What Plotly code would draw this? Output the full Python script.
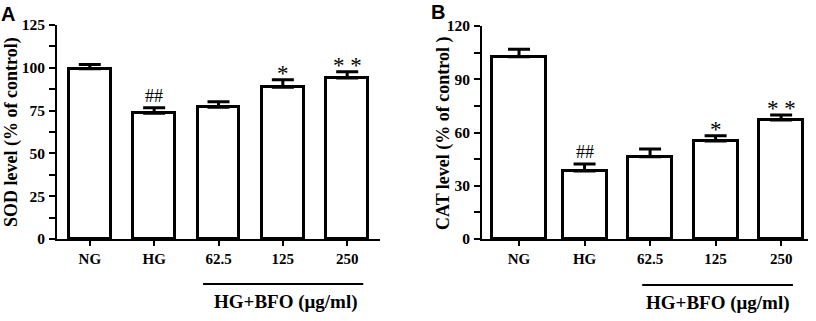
import plotly.graph_objects as go

categories = ["NG", "HG", "62.5", "125", "250"]

sod_mean = [99.5, 73.4, 76.9, 88.6, 94.0]
sod_err = [2.5, 3.3, 3.3, 4.4, 3.7]
sod_marks = ["", "##", "", "*", "* *"]

cat_mean = [102.7, 38.3, 46.4, 55.2, 67.0]
cat_err = [4.2, 4.0, 4.3, 3.0, 2.9]
cat_marks = ["", "##", "", "*", "* *"]

sod_ticks = [0, 25, 50, 75, 100, 125]
cat_ticks = [0, 30, 60, 90, 120]

group_label = "HG+BFO (μg/ml)"

SERIF = "Liberation Serif"
SANS = "Liberation Sans"
W, H = 816, 321

fig = go.Figure()

def add_panel(xa, ya, means, errs, widths):
    fig.add_trace(go.Bar(
        x=categories, y=means, width=widths,
        marker=dict(color="white", line=dict(color="black", width=3)),
        error_y=dict(type="data", array=errs, arrayminus=[0] * len(errs),
                     symmetric=False, color="black", thickness=3, width=11),
        xaxis=xa, yaxis=ya, showlegend=False, hoverinfo="skip",
    ))

add_panel("x", "y", sod_mean, sod_err, [0.65] * 5)
add_panel("x2", "y2", cat_mean, cat_err, [0.82, 0.67, 0.67, 0.67, 0.67])

def px_x(p):
    return p / W

def px_y(p):
    return (H - p) / H

xcommon = dict(type="category", showline=True, linecolor="black", linewidth=2,
               ticks="outside", ticklen=5, tickwidth=2, tickcolor="black",
               showgrid=False, zeroline=False, automargin=False,
               tickfont=dict(family=SERIF, size=15, color="black", weight="bold"))
ycommon = dict(showline=True, linecolor="black", linewidth=2,
               ticks="outside", ticklen=6, tickwidth=2, tickcolor="black",
               showgrid=False, zeroline=False, automargin=False,
               tickfont=dict(family=SERIF, size=15.5, color="black", weight="bold"))

fig.update_layout(
    width=W, height=H, autosize=False,
    margin=dict(l=0, r=0, t=0, b=0),
    paper_bgcolor="white", plot_bgcolor="white",
    bargap=0,
    xaxis=dict(domain=[px_x(57), px_x(380)], range=[-0.51, 4.51], anchor="y", **xcommon),
    yaxis=dict(domain=[px_y(239), px_y(25)], range=[0, 125], tickvals=sod_ticks,
               minor=dict(dtick=12.5, ticks="outside", ticklen=6, tickwidth=2, tickcolor="black"),
               anchor="x", ticklabelstandoff=1, **ycommon),
    xaxis2=dict(domain=[px_x(482), px_x(808)], range=[-0.565, 4.41], anchor="y2", **xcommon),
    yaxis2=dict(domain=[px_y(239), px_y(26)], range=[0, 120], tickvals=cat_ticks,
                minor=dict(dtick=15, ticks="outside", ticklen=6, tickwidth=2, tickcolor="black"),
                anchor="x2", ticklabelstandoff=1, **ycommon),
)

ann = []
# significance marks
for xa, ya, means, errs, marks in [("x", "y", sod_mean, sod_err, sod_marks),
                                    ("x2", "y2", cat_mean, cat_err, cat_marks)]:
    for i, (m, e, t) in enumerate(zip(means, errs, marks)):
        if t:
            ann.append(dict(x=i, y=m + e, xref=xa, yref=ya, text=t, showarrow=False,
                            xanchor="center", yanchor="bottom",
                            yshift=0 if "#" in t else -8,
                            font=dict(family=SERIF, size=23 if "*" in t else 18, color="black")))

# group labels and lines
fig.add_shape(type="line", xref="x", yref="paper", x0=1.76, x1=4.25,
              y0=px_y(284), y1=px_y(284), line=dict(color="black", width=2))
fig.add_shape(type="line", xref="x2", yref="paper", x0=1.88, x1=4.18,
              y0=px_y(285), y1=px_y(285), line=dict(color="black", width=2))
ann.append(dict(x=3.05, y=px_y(302), xref="x", yref="paper", text=group_label, showarrow=False,
                xanchor="center", yanchor="middle",
                font=dict(family=SERIF, size=19, color="black", weight="bold")))
ann.append(dict(x=3.04, y=px_y(303), xref="x2", yref="paper", text=group_label, showarrow=False,
                xanchor="center", yanchor="middle",
                font=dict(family=SERIF, size=19, color="black", weight="bold")))

# axis titles
ann.append(dict(x=px_x(11), y=px_y(132), xref="paper", yref="paper",
                text="SOD level (% of control)", textangle=-90, showarrow=False,
                xanchor="center", yanchor="middle",
                font=dict(family=SERIF, size=18, color="black", weight="bold")))
ann.append(dict(x=px_x(443), y=px_y(133), xref="paper", yref="paper",
                text="CAT level (% of control )", textangle=-90, showarrow=False,
                xanchor="center", yanchor="middle",
                font=dict(family=SERIF, size=18, color="black", weight="bold")))

# panel letters
ann.append(dict(x=px_x(8), y=px_y(14), xref="paper", yref="paper", text="A", showarrow=False,
                xanchor="center", yanchor="middle",
                font=dict(family=SANS, size=20, color="black", weight="bold")))
ann.append(dict(x=px_x(438), y=px_y(12), xref="paper", yref="paper", text="B", showarrow=False,
                xanchor="center", yanchor="middle",
                font=dict(family=SANS, size=20, color="black", weight="bold")))

fig.update_layout(annotations=ann)
fig.write_html("out.html", config={"displayModeBar": False},
               post_script="document.body.style.margin='0';document.body.style.padding='0';")
